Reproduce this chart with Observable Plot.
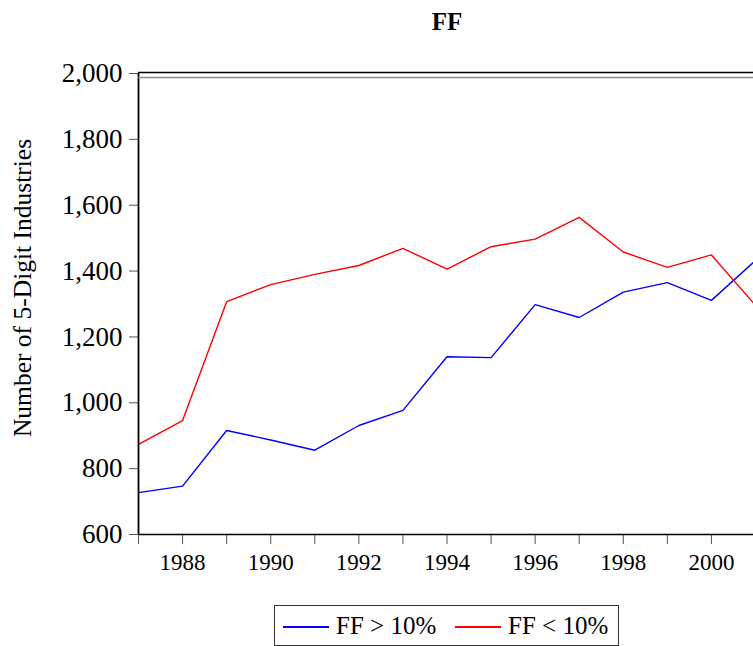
<!DOCTYPE html>
<html>
<head>
<meta charset="utf-8">
<script src="https://cdn.jsdelivr.net/npm/d3@7"></script>
<script src="https://cdn.jsdelivr.net/npm/@observablehq/plot@0.6"></script>
<style>
  html, body { margin: 0; padding: 0; background: #fff; overflow: hidden; }
  #wrap { position: relative; width: 753px; height: 646px; font-family: "Liberation Serif", "DejaVu Serif", serif; color: #000; }
  #title { position: absolute; left: 0; width: 894px; top: 7px; text-align: center; font-weight: bold; font-size: 25px; line-height: 30px; }
  #ylab { position: absolute; left: 23px; top: 288px; transform: translate(-50%, -50%) rotate(-90deg); white-space: nowrap; font-size: 25.5px; line-height: 30px; }
  #legend { position: absolute; left: 274px; top: 605px; width: 343px; height: 39px; border: 1px solid #333; font-size: 25px; }
  .item { position: absolute; top: 6px; height: 28px; line-height: 28px; white-space: nowrap; }
  .sw { position: absolute; left: 0; top: 14px; width: 46px; height: 1.6px; }
  .txt { position: absolute; left: 53px; top: 0; }
  #chart { position: absolute; left: 0; top: 0; }
</style>
</head>
<body>
<div id="wrap">
  <div id="chart"></div>
  <div id="title">FF</div>
  <div id="ylab">Number of 5-Digit Industries</div>
  <div id="legend"></div>
</div>
<script>
const years = [1987, 1988, 1989, 1990, 1991, 1992, 1993, 1994, 1995, 1996, 1997, 1998, 1999, 2000, 2001];
const ffAbove = [727, 747, 916, 887, 856, 931, 977, 1140, 1137, 1298, 1259, 1336, 1365, 1311, 1432];
const ffBelow = [874, 946, 1307, 1359, 1390, 1417, 1469, 1406, 1474, 1497, 1563, 1458, 1411, 1449, 1296];
const seriesNames = ["FF > 10%", "FF < 10%"];
const seriesColors = ["#0000ff", "#ff0000"];
const yTicks = [600, 800, 1000, 1200, 1400, 1600, 1800, 2000];

const rows = [];
years.forEach((yr, i) => {
  rows.push({year: yr, value: ffAbove[i], series: seriesNames[0]});
  rows.push({year: yr, value: ffBelow[i], series: seriesNames[1]});
});

const chart = Plot.plot({
  width: 753,
  height: 646,
  marginLeft: 138,
  marginRight: 0,
  marginTop: 73,
  marginBottom: 112,
  style: {fontFamily: "Liberation Serif", fontSize: "23px", background: "white", overflow: "hidden"},
  x: {domain: [1987, 2001], range: [138, 755]},
  y: {domain: [600, 2000]},
  color: {domain: seriesNames, range: seriesColors},
  marks: [
    Plot.axisX({ticks: years, tickFormat: d => d % 2 === 0 ? String(d) : "", tickSize: 10, tickPadding: 9.5, stroke: "#555", fill: "black", fontSize: 23, label: null}),
    Plot.axisY({ticks: yTicks, tickFormat: d3.format(","), tickSize: 9, tickPadding: 7, stroke: "#555", fill: "black", fontSize: 27, label: null}),
    Plot.line(rows, {x: "year", y: "value", z: "series", stroke: "series", strokeWidth: 1.4}),
    Plot.ruleY([600], {stroke: "black", strokeWidth: 1.5}),
    Plot.ruleX([1987], {stroke: "black", strokeWidth: 1.8}),
    Plot.ruleY([2000], {stroke: "black", strokeWidth: 1.5, dy: -1}),
    Plot.ruleY([2000], {stroke: "#888", strokeWidth: 1.5, dy: 4})
  ]
});
document.getElementById("chart").appendChild(chart);

const legend = document.getElementById("legend");
const lefts = [8, 180];
seriesNames.forEach((name, i) => {
  const it = document.createElement("div");
  it.className = "item";
  it.style.left = lefts[i] + "px";
  const sw = document.createElement("div");
  sw.className = "sw";
  sw.style.background = seriesColors[i];
  it.appendChild(sw);
  const tx = document.createElement("span");
  tx.className = "txt";
  tx.textContent = name;
  it.appendChild(tx);
  legend.appendChild(it);
});
</script>
</body>
</html>
